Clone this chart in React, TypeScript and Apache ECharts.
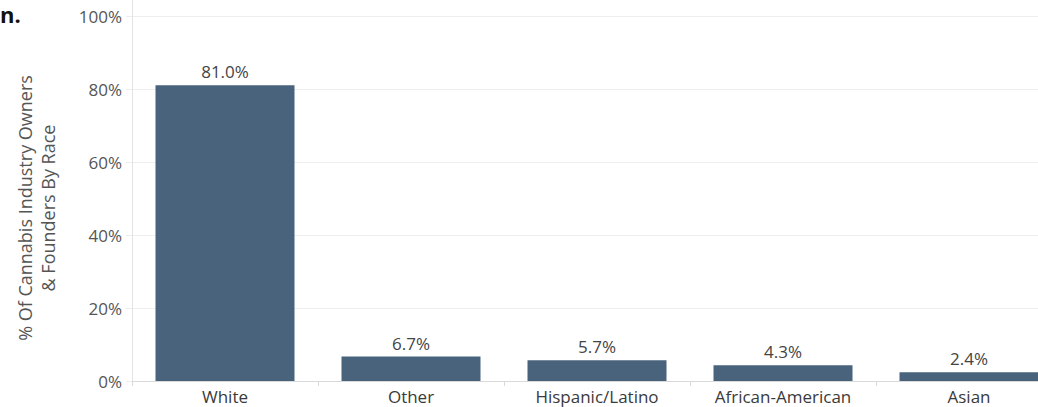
import React, { useEffect, useRef } from "react";
import * as echarts from "echarts";

const categories = ["White", "Other", "Hispanic/Latino", "African-American", "Asian"];
const shares = [81.0, 6.7, 5.7, 4.3, 2.4];
const yTicks = { min: 0, max: 100, interval: 20 };
const axisNameLines = ["% Of Cannabis Industry Owners", "& Founders By Race"];

const FONT = "'Open Sans', 'Noto Sans', sans-serif";

export default function App() {
  const ref = useRef<HTMLDivElement>(null);
  useEffect(() => {
    if (!ref.current) return;
    const chart = echarts.init(ref.current, null, { renderer: "svg" });
    chart.setOption({
      animation: false,
      backgroundColor: "#ffffff",
      textStyle: { fontFamily: FONT },
      grid: {
        left: 132,
        width: 930,
        top: 16,
        height: 365,
        containLabel: false,
        outerBoundsMode: "none",
      },
      xAxis: {
        type: "category",
        data: categories,
        axisLine: { show: true, lineStyle: { color: "#d9d9d9", width: 1 } },
        axisTick: { show: true, length: 5, lineStyle: { color: "#d9d9d9" } },
        axisLabel: {
          color: "#3a3a3a",
          fontSize: 17,
          lineHeight: 17,
          fontFamily: FONT,
          margin: 7,
        },
      },
      yAxis: {
        type: "value",
        min: yTicks.min,
        max: yTicks.max,
        interval: yTicks.interval,
        axisLine: { show: true, lineStyle: { color: "#e3e3e3", width: 1 } },
        axisTick: { show: true, length: 6, lineStyle: { color: "#ececec" } },
        splitLine: { show: true, lineStyle: { color: "#eeeeee", width: 1 } },
        axisLabel: {
          color: "#555555",
          fontSize: 17,
          fontFamily: FONT,
          margin: 10,
          formatter: (v: number) => `${v}%`,
        },
      },
      series: [
        {
          type: "bar",
          data: shares,
          barWidth: 139,
          itemStyle: { color: "#49637c" },
          label: {
            show: true,
            position: "top",
            distance: 5,
            color: "#444444",
            fontSize: 17,
            fontFamily: FONT,
            formatter: (p: any) => `${Number(p.value).toFixed(1)}%`,
          },
        },
      ],
      graphic: [
        {
          type: "line",
          shape: { x1: 132.5, y1: 0, x2: 132.5, y2: 16 },
          style: { stroke: "#e3e3e3", lineWidth: 1 },
        },
        {
          type: "text",
          x: 0,
          y: 3,
          style: { text: "n.", fontSize: 22, fontWeight: "bold", fill: "#111111", fontFamily: FONT },
        },
        {
          type: "text",
          x: 25,
          y: 208,
          rotation: Math.PI / 2,
          style: {
            text: axisNameLines[0],
            fontSize: 18,
            fill: "#555555",
            fontFamily: FONT,
            align: "center",
            verticalAlign: "middle",
          },
        },
        {
          type: "text",
          x: 48,
          y: 208,
          rotation: Math.PI / 2,
          style: {
            text: axisNameLines[1],
            fontSize: 18,
            fill: "#555555",
            fontFamily: FONT,
            align: "center",
            verticalAlign: "middle",
          },
        },
      ],
    });
    return () => chart.dispose();
  }, []);
  return (
    <div
      ref={ref}
      style={{ position: "fixed", left: 0, top: 0, width: 1038, height: 407 }}
    />
  );
}
